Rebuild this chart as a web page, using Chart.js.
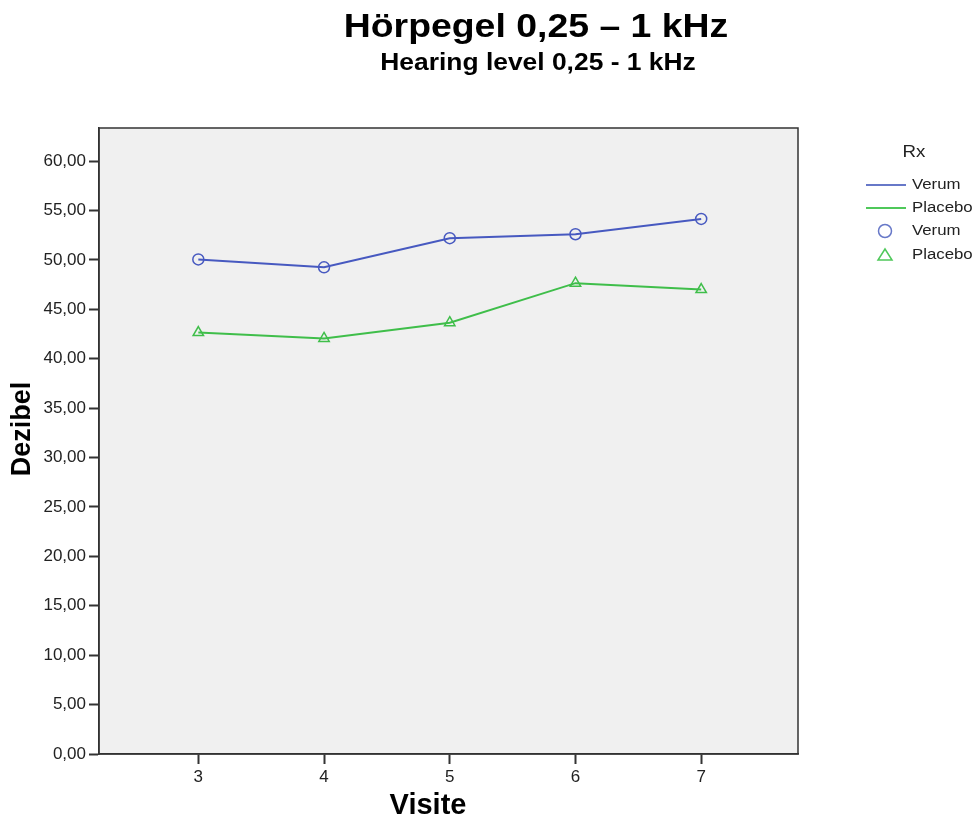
<!DOCTYPE html>
<html>
<head>
<meta charset="utf-8">
<title>Hörpegel 0,25 – 1 kHz</title>
<script src="https://cdn.jsdelivr.net/npm/chart.js@4.4.0/dist/chart.umd.min.js"></script>
<style>
  body { margin: 0; background: #fff; }
  #wrap { width: 979px; height: 821px; position: relative; }
</style>
</head>
<body>
<div id="wrap"><canvas id="myChart"></canvas></div>
<script>
// Werte
const visits = [3, 4, 5, 6, 7];
const verum = [50.05, 49.25, 52.2, 52.6, 54.15];
const placebo = [42.65, 42.05, 43.65, 47.65, 47.0];
const yTickValues = [0, 5, 10, 15, 20, 25, 30, 35, 40, 45, 50, 55, 60];

const FONT = "'Liberation Sans', Arial, sans-serif";
const BLUE = '#4759c0';
const GREEN = '#3fbe4a';
const LEGEND_BLUE = '#6778c8';
const LEGEND_GREEN = '#4fc85a';

function toPoints(values) {
    return visits.map((v, i) => ({ x: v, y: values[i] }));
}

// horizontal leicht gestreckter Text (wie im Original)
function stretchedText(ctx, text, x, y, sx) {
    ctx.save();
    ctx.translate(x, y);
    ctx.scale(sx, 1);
    ctx.fillText(text, 0, 0);
    ctx.restore();
}

// Hintergrund + Rahmen des Plotbereichs
const plotFrame = {
    id: 'plotFrame',
    beforeDraw(chart) {
        const { ctx, chartArea: a } = chart;
        ctx.save();
        ctx.fillStyle = '#f0f0f0';
        ctx.fillRect(a.left, a.top, a.right - a.left, a.bottom - a.top);
        ctx.restore();
    },
    afterDraw(chart) {
        const { ctx, chartArea: a } = chart;
        ctx.save();
        ctx.strokeStyle = '#333';
        ctx.lineWidth = 1.5;
        ctx.strokeRect(a.left, a.top, a.right - a.left, a.bottom - a.top);
        ctx.restore();
    }
};

// Titel, Achsentitel und Legende
const textsAndLegend = {
    id: 'textsAndLegend',
    afterDraw(chart) {
        const ctx = chart.ctx;
        ctx.save();
        ctx.fillStyle = '#000';
        ctx.textAlign = 'center';
        ctx.textBaseline = 'alphabetic';
        ctx.font = 'bold 34px ' + FONT;
        stretchedText(ctx, 'Hörpegel 0,25 – 1 kHz', 536, 37, 1.1);
        ctx.font = 'bold 24px ' + FONT;
        stretchedText(ctx, 'Hearing level 0,25 - 1 kHz', 538, 70, 1.1);

        // Achsentitel
        ctx.font = 'bold 29px ' + FONT;
        ctx.textBaseline = 'middle';
        ctx.fillText('Visite', 428, 806);
        ctx.save();
        ctx.translate(23, 429);
        ctx.rotate(-Math.PI / 2);
        ctx.font = 'bold 27px ' + FONT;
        ctx.fillText('Dezibel', 0, 0);
        ctx.restore();

        // Legende
        ctx.fillStyle = '#222';
        ctx.font = '17px ' + FONT;
        stretchedText(ctx, 'Rx', 914, 152, 1.1);

        ctx.textAlign = 'left';
        ctx.font = '14px ' + FONT;
        ctx.lineWidth = 2;
        ctx.strokeStyle = LEGEND_BLUE;
        ctx.beginPath(); ctx.moveTo(866, 185); ctx.lineTo(906, 185); ctx.stroke();
        ctx.strokeStyle = LEGEND_GREEN;
        ctx.beginPath(); ctx.moveTo(866, 208); ctx.lineTo(906, 208); ctx.stroke();
        stretchedText(ctx, 'Verum', 912, 185, 1.2);
        stretchedText(ctx, 'Placebo', 912, 208, 1.2);

        ctx.lineWidth = 1.5;
        ctx.strokeStyle = LEGEND_BLUE;
        ctx.beginPath(); ctx.arc(885, 231, 6.5, 0, Math.PI * 2); ctx.stroke();
        ctx.strokeStyle = LEGEND_GREEN;
        ctx.beginPath();
        ctx.moveTo(885, 249); ctx.lineTo(892, 260); ctx.lineTo(878, 260); ctx.closePath();
        ctx.stroke();
        stretchedText(ctx, 'Verum', 912, 231, 1.2);
        stretchedText(ctx, 'Placebo', 912, 255, 1.2);
        ctx.restore();
    }
};

const ctx = document.getElementById('myChart').getContext('2d');

new Chart(ctx, {
    type: 'line',
    data: {
        datasets: [
            {
                label: 'Verum',
                data: toPoints(verum),
                borderColor: BLUE,
                borderWidth: 2,
                pointStyle: 'circle',
                pointRadius: 5.5,
                pointBorderWidth: 1.5,
                pointBorderColor: BLUE,
                pointBackgroundColor: 'rgba(0,0,0,0)',
                tension: 0
            },
            {
                label: 'Placebo',
                data: toPoints(placebo),
                borderColor: GREEN,
                borderWidth: 2,
                pointStyle: 'triangle',
                pointRadius: 6,
                pointBorderWidth: 1.5,
                pointBorderColor: GREEN,
                pointBackgroundColor: 'rgba(0,0,0,0)',
                tension: 0
            }
        ]
    },
    options: {
        responsive: true,
        maintainAspectRatio: false,
        animation: false,
        layout: { padding: { top: 128, right: 181, left: 0, bottom: 0 } },
        plugins: {
            legend: { display: false },
            title: { display: false },
            tooltip: { enabled: false }
        },
        scales: {
            x: {
                type: 'linear',
                min: 2.21,
                max: 7.77,
                afterBuildTicks: scale => { scale.ticks = visits.map(v => ({ value: v })); },
                afterFit: scale => { scale.height = 67; },
                grid: { drawOnChartArea: false, drawTicks: true, tickLength: 10, tickColor: '#333', tickWidth: 2 },
                border: { display: true, color: '#333', width: 1.5 },
                ticks: { color: '#222', font: { family: FONT, size: 17 }, padding: 3 }
            },
            y: {
                min: 0,
                max: 63.35,
                afterBuildTicks: scale => { scale.ticks = yTickValues.map(v => ({ value: v })); },
                afterFit: scale => { scale.width = 99; },
                grid: { drawOnChartArea: false, drawTicks: true, tickLength: 10, tickColor: '#333', tickWidth: 2 },
                border: { display: true, color: '#333', width: 1.5 },
                ticks: {
                    color: '#222',
                    font: { family: FONT, size: 17 },
                    padding: 3,
                    callback: v => v.toFixed(2).replace('.', ',')
                }
            }
        }
    },
    plugins: [plotFrame, textsAndLegend]
});
</script>
</body>
</html>
